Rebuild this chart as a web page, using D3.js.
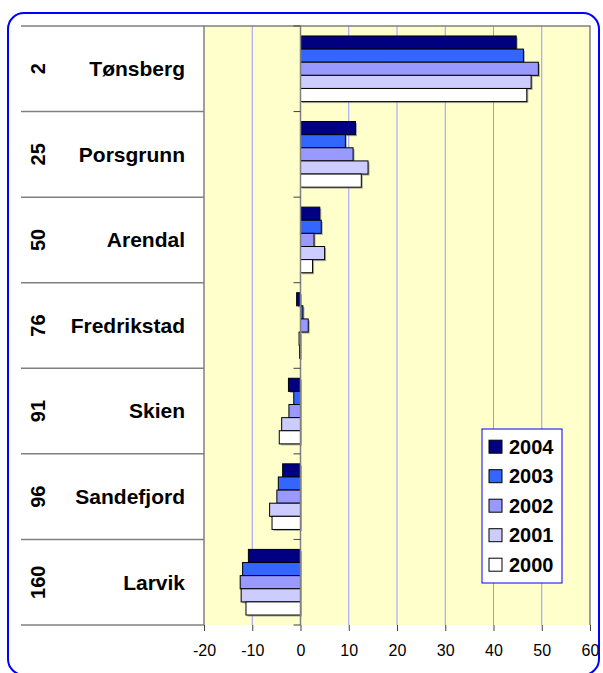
<!DOCTYPE html>
<html>
<head>
<meta charset="utf-8">
<script src="https://cdn.jsdelivr.net/npm/d3@7"></script>
<style>
body { margin: 0; background: #fff; }
svg { display: block; font-family: "Liberation Sans", Arial, sans-serif; }
</style>
</head>
<body>
<script>
var cities = ["Tønsberg", "Porsgrunn", "Arendal", "Fredrikstad", "Skien", "Sandefjord", "Larvik"];
var ranks = ["2", "25", "50", "76", "91", "96", "160"];
var years = ["2004", "2003", "2002", "2001", "2000"];
var colors = ["#000080", "#3366ff", "#9999ff", "#ccccff", "#ffffff"];
var v2004 = [44.7, 11.4, 4.0, -0.8, -2.5, -3.7, -10.8];
var v2003 = [46.2, 9.3, 4.3, 0.5, -1.4, -4.6, -12.0];
var v2002 = [49.3, 10.9, 2.8, 1.6, -2.4, -4.9, -12.5];
var v2001 = [47.8, 14.0, 5.0, -0.3, -3.9, -6.4, -12.3];
var v2000 = [46.9, 12.6, 2.5, -0.2, -4.4, -5.9, -11.3];
var xTicks = [-20, -10, 0, 10, 20, 30, 40, 50, 60];

var series = [v2004, v2003, v2002, v2001, v2000];
var w = 603, h = 673;
var plotLeft = 204, plotRight = 590, plotTop = 26, plotBottom = 625, tableLeft = 21;

var svg = d3.select("body").append("svg").attr("width", w).attr("height", h);

// outer frame
svg.append("rect")
    .attr("x", 8).attr("y", 13).attr("width", 591).attr("height", 662)
    .attr("rx", 16).attr("fill", "#fff").attr("stroke", "#0000ff").attr("stroke-width", 2);

var x = d3.scaleLinear().domain([-20, 60]).range([plotLeft, plotRight]);
var y = d3.scaleBand().domain(cities).range([plotTop, plotBottom]);
var yInner = d3.scaleBand().domain(years).range([0, y.bandwidth()]).paddingOuter(0.76);

// plot background
svg.append("rect")
    .attr("x", plotLeft).attr("y", plotTop).attr("width", plotRight - plotLeft).attr("height", plotBottom - plotTop)
    .attr("fill", "#ffffcc");

// gridlines
svg.selectAll("line.grid")
    .data(xTicks.filter(function(t) { return t != -20 && t != 0 && t != 60; }))
    .enter().append("line")
    .attr("class", "grid")
    .attr("x1", function(d) { return x(d); }).attr("x2", function(d) { return x(d); })
    .attr("y1", plotTop).attr("y2", plotBottom)
    .attr("stroke", "#9999ff").attr("stroke-width", 1);

// plot frame
svg.append("path")
    .attr("d", "M" + plotLeft + "," + plotBottom + "V" + plotTop + "H" + plotRight + "V" + plotBottom)
    .attr("fill", "none").attr("stroke", "#808080").attr("stroke-width", 1.5);

// table rows on the left
var bounds = cities.map(function(c) { return y(c); }).concat([plotBottom]);
svg.selectAll("line.row")
    .data(bounds)
    .enter().append("line")
    .attr("class", "row")
    .attr("x1", tableLeft).attr("x2", plotLeft)
    .attr("y1", function(d) { return d; }).attr("y2", function(d) { return d; })
    .attr("stroke", "#808080").attr("stroke-width", 1.5);

svg.selectAll("text.city")
    .data(cities)
    .enter().append("text")
    .attr("class", "city")
    .attr("x", 185)
    .attr("y", function(d) { return y(d) + y.bandwidth() / 2; })
    .attr("dy", "0.35em")
    .attr("text-anchor", "end")
    .attr("font-size", 21).attr("font-weight", "bold")
    .text(function(d) { return d; });

svg.selectAll("text.rank")
    .data(ranks)
    .enter().append("text")
    .attr("class", "rank")
    .attr("transform", function(d, i) { return "translate(38," + (y(cities[i]) + y.bandwidth() / 2) + ") rotate(-90)"; })
    .attr("dy", "0.35em")
    .attr("text-anchor", "middle")
    .attr("font-size", 20).attr("font-weight", "bold")
    .text(function(d) { return d; });

// bars
var rows = [];
series.forEach(function(s, k) {
    s.forEach(function(v, i) { rows.push({ v: v, c: cities[i], k: k }); });
});

svg.selectAll("rect.shadow")
    .data(rows)
    .enter().append("rect")
    .attr("class", "shadow")
    .attr("x", function(d) { return Math.min(x(0), x(d.v)) + 1.5; })
    .attr("y", function(d) { return y(d.c) + yInner(years[d.k]) + 1.5; })
    .attr("width", function(d) { return Math.abs(x(d.v) - x(0)); })
    .attr("height", yInner.bandwidth())
    .attr("fill", "#777").attr("opacity", 0.6);

svg.selectAll("rect.bar")
    .data(rows)
    .enter().append("rect")
    .attr("class", "bar")
    .attr("x", function(d) { return Math.min(x(0), x(d.v)); })
    .attr("y", function(d) { return y(d.c) + yInner(years[d.k]); })
    .attr("width", function(d) { return Math.abs(x(d.v) - x(0)); })
    .attr("height", yInner.bandwidth())
    .attr("fill", function(d) { return colors[d.k]; })
    .attr("stroke", "#000").attr("stroke-width", 1);

// zero axis and category ticks
svg.append("line")
    .attr("x1", x(0)).attr("x2", x(0)).attr("y1", plotTop).attr("y2", plotBottom)
    .attr("stroke", "#808080").attr("stroke-width", 1.5);
svg.selectAll("line.ytick")
    .data(bounds)
    .enter().append("line")
    .attr("class", "ytick")
    .attr("x1", x(0) - 7).attr("x2", x(0))
    .attr("y1", function(d) { return d; }).attr("y2", function(d) { return d; })
    .attr("stroke", "#404040").attr("stroke-width", 1);

// bottom axis
var xAxis = d3.axisBottom(x).tickValues(xTicks).tickSize(6).tickPadding(14)
    .tickFormat(function(d) { return String(d); });
var gx = svg.append("g")
    .attr("transform", "translate(0," + plotBottom + ")")
    .call(xAxis);
gx.select(".domain").remove();
gx.selectAll(".tick line").attr("stroke", "#404040");
gx.selectAll(".tick text").attr("font-size", 16).attr("font-family", "\"Liberation Sans\", Arial, sans-serif").attr("fill", "#000");

// legend
var legend = svg.append("g").attr("transform", "translate(482,429)");
legend.append("rect")
    .attr("width", 80).attr("height", 154)
    .attr("fill", "#fff").attr("stroke", "#0000ff").attr("stroke-width", 1);
var items = legend.selectAll("g.item")
    .data(years)
    .enter().append("g")
    .attr("class", "item")
    .attr("transform", function(d, i) { return "translate(0," + (17.7 + i * 29.5) + ")"; });
items.append("rect")
    .attr("x", 7).attr("y", -6.5).attr("width", 13).attr("height", 13)
    .attr("fill", function(d, i) { return colors[i]; })
    .attr("stroke", "#000").attr("stroke-width", 1);
items.append("text")
    .attr("x", 27).attr("dy", "0.35em")
    .attr("font-size", 20).attr("font-weight", "bold")
    .text(function(d) { return d; });
</script>
</body>
</html>
